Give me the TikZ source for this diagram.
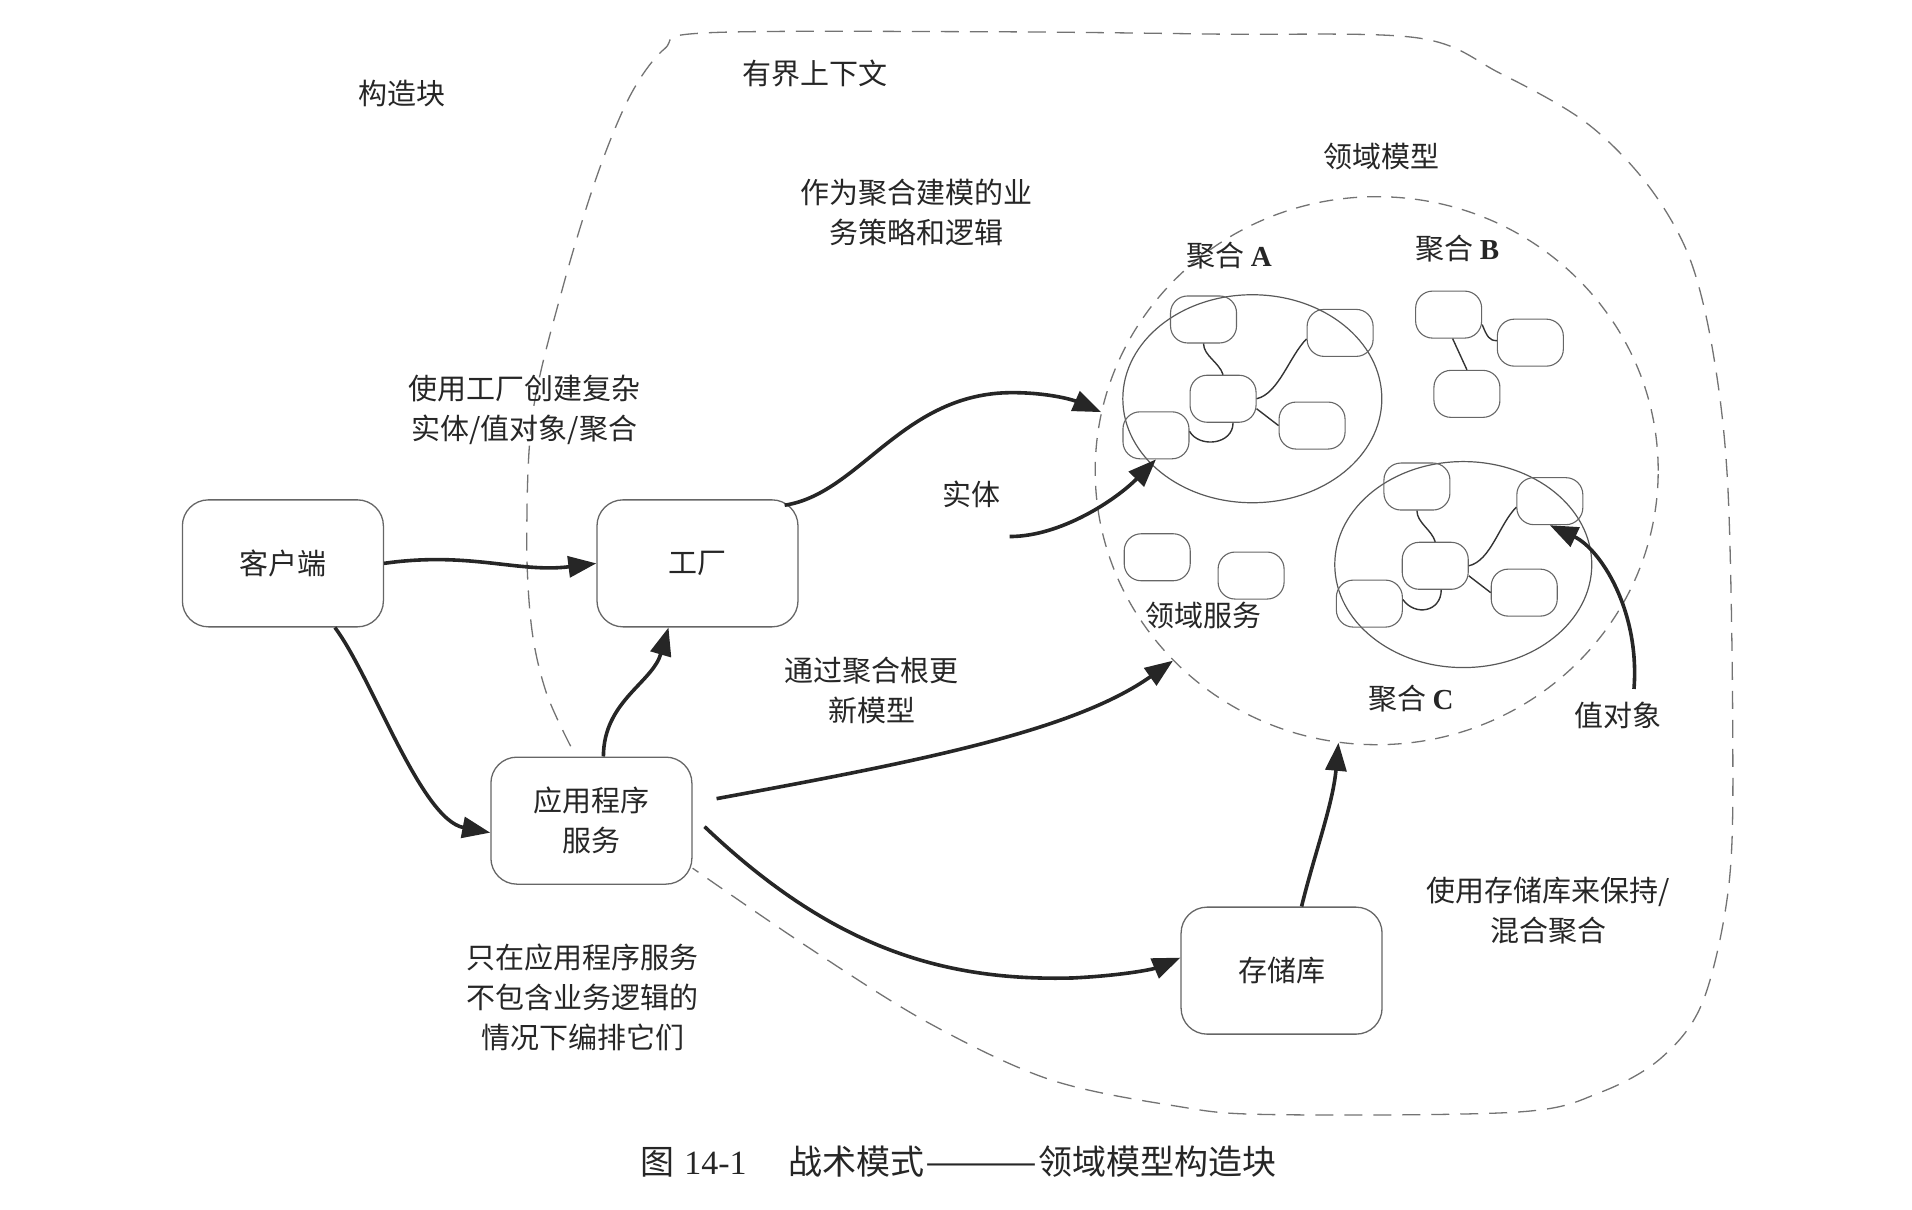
\documentclass[tikz,border=0pt]{standalone}
\usepackage{fontspec}
\setmainfont{Liberation Serif}
\newfontfamily\cjk{Noto Sans CJK SC}
\usetikzlibrary{arrows.meta,shapes.geometric}
\begin{document}
\begin{tikzpicture}[x=1.2194pt,y=-1.2194pt,
  lbl/.style={font=\cjk\fontsize{29}{40}\selectfont, align=center, text=black!85, inner sep=0pt},
  bigbox/.style={draw=black!60, line width=1.3pt, rounded corners=26pt, minimum width=201pt, minimum height=127pt, lbl},
  sbox/.style={draw=black!60, line width=1.1pt, rounded corners=17pt, minimum width=66pt, minimum height=47pt, inner sep=0pt},
  arr/.style={line width=3.6pt, draw=black!85, -{Triangle[length=28pt,width=21pt]}},
  link/.style={line width=1.4pt, draw=black!80},
  bdash/.style={draw=black!55, line width=1.3pt, dash pattern=on 18pt off 11pt},
  ring/.style={draw=black!65, line width=1.2pt, ellipse, inner sep=0pt}
]
\useasboundingbox (0,0) rectangle (1568,992);

% bounded context
\draw[bdash] plot[smooth, tension=0.55] coordinates {(468,612) (448,568) (436,515) (432,440) (437,338) (462,234) (490,143) (517,78) (545,40) (578,27) (800,26) (1000,28) (1162,31) (1230,60) (1300,100) (1350,150) (1385,210) (1405,290) (1417,400) (1421,600) (1418,724) (1397,820) (1363,867) (1312,896) (1244,912) (1040,914) (964,907) (860,885) (760,838) (660,775) (568,712)};

% domain model
\node[ring, draw=black!55, dash pattern=on 14pt off 10pt, line width=1.3pt, minimum width=563pt, minimum height=548pt] (dom) at (1129,386) {};
\node[ring, minimum width=259pt, minimum height=208pt] (aggA) at (1027,327) {};
\node[ring, minimum width=257pt, minimum height=206pt] (aggC) at (1200,463) {};

% small boxes
\node[sbox] (A1) at (987,262) {};
\node[sbox] (A2) at (1099,273) {};
\node[sbox] (A3) at (1003,327) {};
\node[sbox] (A4) at (948,357) {};
\node[sbox] (A5) at (1076,349) {};
\node[sbox] (B1) at (1188,258) {};
\node[sbox] (B2) at (1255,281) {};
\node[sbox] (B3) at (1203,323) {};
\node[sbox] (D1) at (949,457) {};
\node[sbox] (D2) at (1026,472) {};
\node[sbox] (C1) at (1162,399) {};
\node[sbox] (C2) at (1271,411) {};
\node[sbox] (C3) at (1177,464) {};
\node[sbox] (C4) at (1123,495) {};
\node[sbox] (C5) at (1250,486) {};

% links
\draw[link] (A1.south) .. controls +(0,10) and +(-3,-10) .. (A3.north);
\draw[link] (A3.east) .. controls +(18,-4) and +(-14,14) .. ([yshift=-6pt]A2.west);
\draw[link] ([yshift=-10pt]A3.east) -- (A5.west);
\draw[link] ([yshift=4pt]A4.east) .. controls +(8,14) and +(0,18) .. ([xshift=10pt]A3.south);
\draw[link] ([xshift=4pt]B1.south) -- (B3.north);
\draw[link] ([yshift=-10pt]B1.east) .. controls +(4,10) and +(-6,0) .. ([yshift=2pt]B2.west);
\draw[link] (C1.south) .. controls +(0,10) and +(-3,-10) .. (C3.north);
\draw[link] (C3.east) .. controls +(18,-4) and +(-14,14) .. ([yshift=-6pt]C2.west);
\draw[link] ([yshift=-10pt]C3.east) -- (C5.west);
\draw[link] ([yshift=4pt]C4.east) .. controls +(10,14) and +(0,18) .. ([xshift=6pt]C3.south);

% big boxes
\node[bigbox] (client) at (232,462) {客户端};
\node[bigbox] (factory) at (572,462) {工厂};
\node[bigbox] (app) at (485,673) {应用程序\\服务};
\node[bigbox] (repo) at (1051,796) {存储库};

% labels
\node[lbl] (t1) at (330,77) {构造块};
\node[lbl] (t2) at (668,60) {有界上下文};
\node[lbl] (t3) at (1133,128) {领域模型};
\node[lbl] (t4) at (752,174) {作为聚合建模的业\\务策略和逻辑};
\node[lbl] (t5) at (1008,210) {聚合 {\rmfamily\bfseries A}};
\node[lbl] (t6) at (1195,204) {聚合 {\rmfamily\bfseries B}};
\node[lbl] (t7) at (430,336) {使用工厂创建复杂\\实体/值对象/聚合};
\node[lbl] (t8) at (797,405) {实体};
\node[lbl] (t9) at (987,505) {领域服务};
\node[lbl] (t10) at (715,566) {通过聚合根更\\新模型};
\node[lbl] (t11) at (1157,573) {聚合 {\rmfamily\bfseries C}};
\node[lbl] (t12) at (1327,587) {值对象};
\node[lbl] (t13) at (1270,747) {使用存储库来保持/\\混合聚合};
\node[lbl] (t14) at (478,818) {只在应用程序服务\\不包含业务逻辑的\\情况下编排它们};
\node[lbl, font=\fontsize{34}{40}\selectfont] (cap) at (786,953) {{\cjk 图}\hspace{10pt}14-1\hspace{42pt}{\cjk 战术模式\scalebox{2}[1]{——}领域模型构造块}};

% free ends
\coordinate (entS) at (828,440);
\coordinate (valS) at (1340,565);

% arrows
\draw[arr] (client.east) .. controls (385,452) and (425,470) .. (factory.west);
\draw[arr] ([xshift=52pt]client.south) .. controls (305,555) and (345,672) .. ([yshift=-12pt]app.west);
\draw[arr] ([xshift=12pt]app.north) .. controls (495,575) and (535,560) .. ([xshift=-29pt]factory.south);
\draw[arr] ([xshift=-14pt,yshift=-6pt]factory.north east) .. controls (705,405) and (740,322) .. (830,322) .. controls (860,322) and (880,328) .. (dom.168);
\draw[arr] (entS) .. controls (870,440) and (915,410) .. (A4.south);
\draw[arr] ([xshift=24pt,yshift=22pt]app.east) .. controls (750,625) and (880,600) .. (dom.223);
\draw[arr] ([xshift=12pt,yshift=-6pt]app.east) .. controls (680,775) and (770,805) .. (880,802) .. controls (920,800) and (945,795) .. ([yshift=13pt]repo.west);
\draw[arr] ([xshift=20pt]repo.north) .. controls (1078,700) and (1093,660) .. (dom.262);
\draw[arr] (valS) .. controls (1345,500) and (1312,450) .. (C2.south);
\end{tikzpicture}
\end{document}
